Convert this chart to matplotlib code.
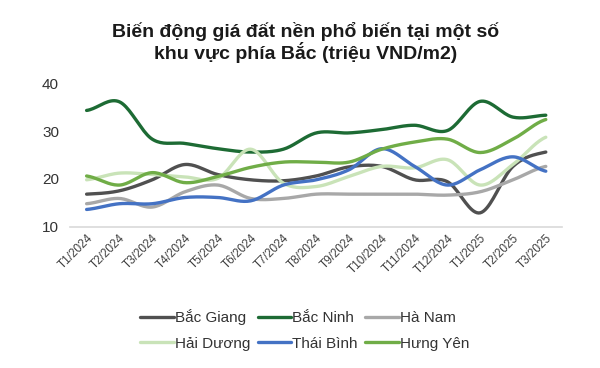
import numpy as np
import matplotlib.pyplot as plt

months = ['T1/2024', 'T2/2024', 'T3/2024', 'T4/2024', 'T5/2024', 'T6/2024', 'T7/2024',
          'T8/2024', 'T9/2024', 'T10/2024', 'T11/2024', 'T12/2024', 'T1/2025', 'T2/2025', 'T3/2025']

bac_giang = [16.8, 17.5, 19.8, 23.0, 20.9, 19.8, 19.6, 20.6, 22.5, 22.6, 19.8, 19.4, 12.9, 22.6, 25.6]
bac_ninh = [34.3, 36.1, 28.3, 27.4, 26.3, 25.6, 26.2, 29.6, 29.6, 30.3, 31.2, 30.1, 36.2, 32.9, 33.3]
ha_nam = [14.8, 15.9, 14.1, 17.3, 18.7, 15.9, 15.9, 16.8, 16.8, 16.8, 16.8, 16.6, 17.3, 19.8, 22.6]
hai_duong = [19.8, 21.2, 20.9, 20.4, 20.1, 26.2, 19.1, 18.4, 20.5, 22.6, 22.3, 24.0, 18.7, 23.0, 28.7]
thai_binh = [13.6, 14.8, 14.8, 16.1, 16.1, 15.4, 18.7, 19.8, 21.9, 26.3, 22.6, 18.7, 21.9, 24.6, 21.6]
hung_yen = [20.6, 18.7, 21.3, 19.2, 20.5, 22.4, 23.5, 23.5, 23.5, 26.2, 27.7, 28.3, 25.5, 28.3, 32.4]

series = ['Bắc Giang', 'Bắc Ninh', 'Hà Nam', 'Hải Dương', 'Thái Bình', 'Hưng Yên']
values = [bac_giang, bac_ninh, ha_nam, hai_duong, thai_binh, hung_yen]
colors = ['#505050', '#1d6b34', '#a8a8a8', '#c9e3b8', '#4472c4', '#70ad47']


def smooth(y, n=20):
    # catmull-rom style smoothing, like excel "smoothed line"
    y = np.asarray(y, dtype=float)
    p = np.concatenate([[y[0]], y, [y[-1]]])
    xs, ys = [], []
    for i in range(len(y) - 1):
        p0, p1, p2, p3 = p[i], p[i + 1], p[i + 2], p[i + 3]
        t = np.linspace(0, 1, n, endpoint=False)
        ys.append(0.5 * (2 * p1 + (-p0 + p2) * t + (2 * p0 - 5 * p1 + 4 * p2 - p3) * t ** 2
                         + (-p0 + 3 * p1 - 3 * p2 + p3) * t ** 3))
        xs.append(i + t)
    xs.append([len(y) - 1])
    ys.append([y[-1]])
    return np.concatenate(xs), np.concatenate(ys)


plt.rcParams['font.family'] = ['Liberation Sans', 'DejaVu Sans']

fig = plt.figure(figsize=(6, 3.68), dpi=100)
ax = fig.add_axes([0.117, 0.384, 0.82, 0.39])

x = np.arange(len(months))
lines = []
for name, vals, c in zip(series, values, colors):
    sx, sy = smooth(vals)
    ln, = ax.plot(sx, sy, color=c, linewidth=2.4, label=name, solid_capstyle='round')
    lines.append(ln)

ax.set_xlim(-0.5, len(months) - 0.5)
ax.set_ylim(10, 40)
ax.set_yticks([10, 20, 30, 40])
ax.set_xticks(x)
ax.set_xticklabels(months, rotation=45, ha='right', rotation_mode='anchor', fontsize=8.5, color='#404040')
ax.tick_params(axis='y', labelsize=11, colors='#333333', length=0, pad=8)
ax.tick_params(axis='x', length=0, pad=4)
for s in ['top', 'right', 'left']:
    ax.spines[s].set_visible(False)
ax.spines['bottom'].set_color('#d9d9d9')
ax.spines['bottom'].set_linewidth(1.2)

fig.text(0.51, 0.884, 'Biến động giá đất nền phổ biến tại một số\nkhu vực phía Bắc (triệu VND/m2)',
         ha='center', va='center', fontsize=14, fontweight='bold', color='#1a1a1a', linespacing=1.05)

# legend filled row by row, as in the original
order = [0, 3, 1, 4, 2, 5]
fig.legend([lines[i] for i in order], [series[i] for i in order], loc='center',
           bbox_to_anchor=(0.508, 0.103), ncol=3, frameon=False, fontsize=11,
           handlelength=2.2, handletextpad=0.05, columnspacing=0.5, labelspacing=0.75,
           labelcolor='#333333')

fig.savefig('out.png', dpi=100, facecolor='white')
